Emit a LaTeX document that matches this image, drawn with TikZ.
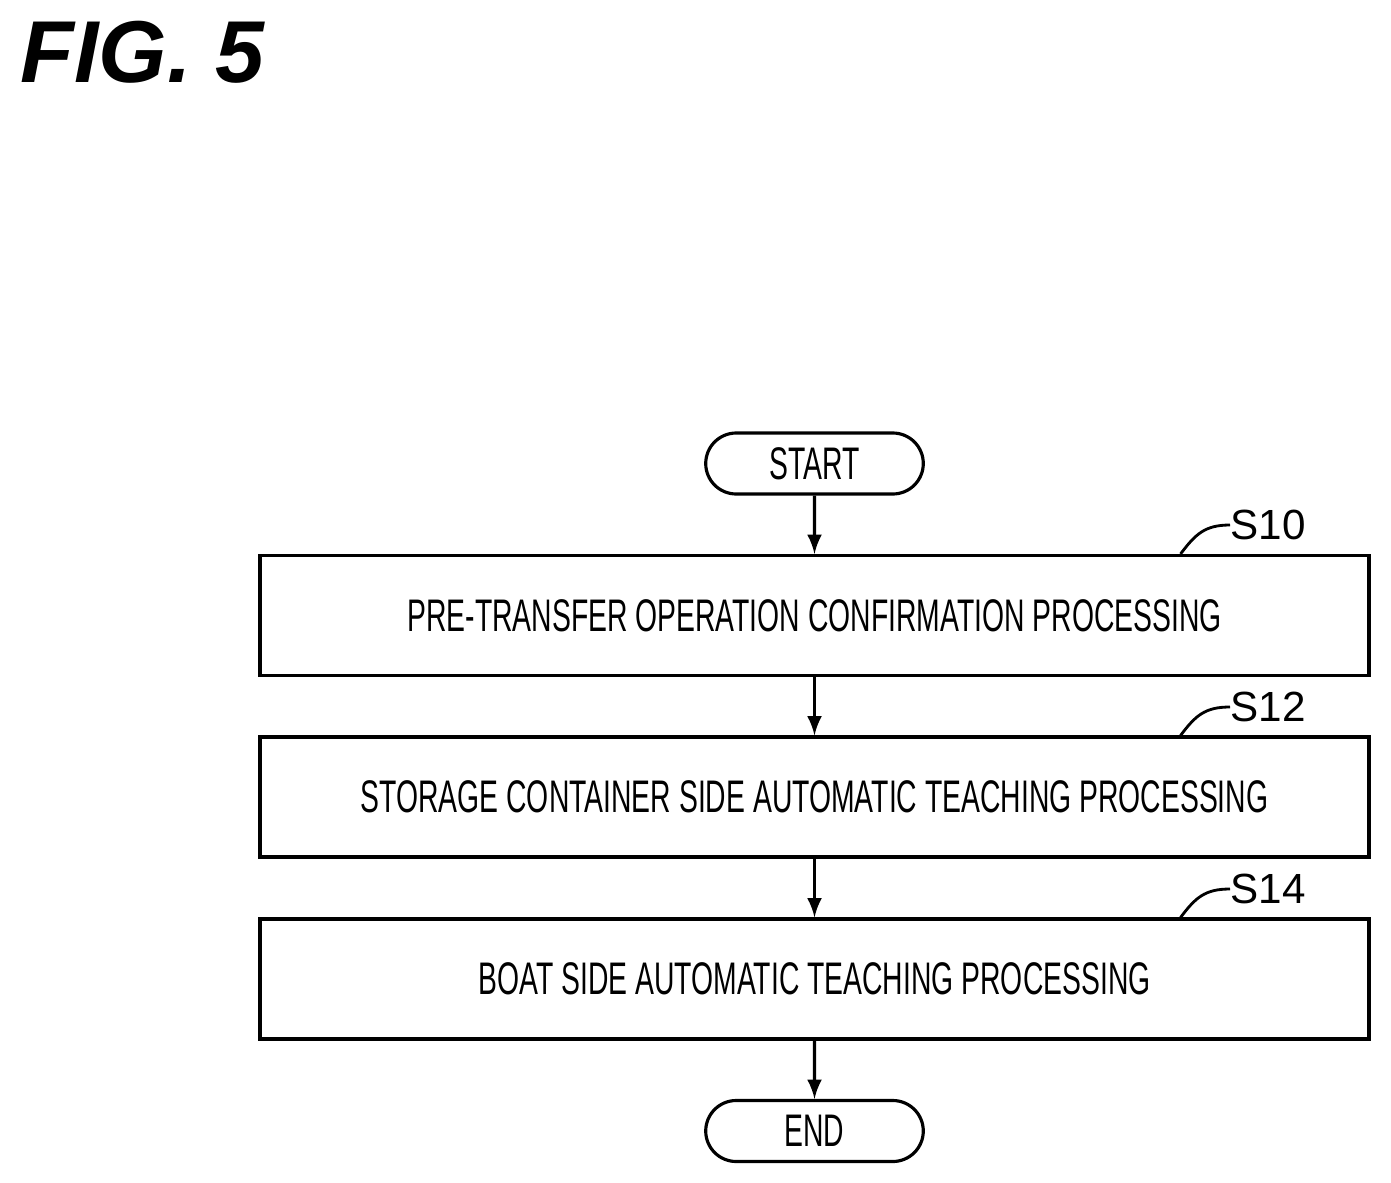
\documentclass[tikz,border=0pt]{standalone}
\usepackage{fontspec}
\setmainfont{Liberation Sans}
\newfontfamily\narrowsf[FakeStretch=0.62]{Liberation Sans}
\usetikzlibrary{positioning,shapes.misc}
\begin{document}
\begin{tikzpicture}[
    every node/.style={align=center, font=\narrowsf\fontsize{13}{15}\selectfont},
    procbox/.style={rectangle, draw, line width=0.9pt, minimum width=11.09cm, minimum height=1.2cm},
    term/.style={rounded rectangle, draw, line width=0.9pt, minimum width=2.41cm, minimum height=0.61cm},
    tag/.style={font=\fontsize{12}{14}\selectfont, inner sep=0pt}]
\useasboundingbox (0,0) rectangle (13.91,11.82);

% Title
\node[font=\bfseries\itshape\fontsize{25}{28}\selectfont, anchor=north west, inner sep=0pt] (title) at (0.2,11.62) {FIG. 5};

% Flow
\node[term] (start) at (8.145,7.185) {START};
\node[procbox] (s10) at (8.145,5.665) {PRE-TRANSFER OPERATION CONFIRMATION PROCESSING};
\node[procbox] (s12) at (8.145,3.85) {STORAGE CONTAINER SIDE AUTOMATIC TEACHING PROCESSING};
\node[procbox] (s14) at (8.145,2.03) {BOAT SIDE AUTOMATIC TEACHING PROCESSING};
\node[term] (end) at (8.145,0.51) {END};

% Step labels
\node[tag, anchor=west] (l10) at (12.3,6.57) {S10};
\node[tag, anchor=west] (l12) at (12.3,4.75) {S12};
\node[tag, anchor=west] (l14) at (12.3,2.93) {S14};
\draw[line width=0.8pt] (s10.north east) ++(-1.9,0) .. controls +(0.15,0.2) and +(-0.25,0) .. (l10.west);
\draw[line width=0.8pt] (s12.north east) ++(-1.9,0) .. controls +(0.15,0.2) and +(-0.25,0) .. (l12.west);
\draw[line width=0.8pt] (s14.north east) ++(-1.9,0) .. controls +(0.15,0.2) and +(-0.25,0) .. (l14.west);

% Connections
\draw[-latex, line width=0.9pt] (start) -- (s10);
\draw[-latex, line width=0.9pt] (s10) -- (s12);
\draw[-latex, line width=0.9pt] (s12) -- (s14);
\draw[-latex, line width=0.9pt] (s14) -- (end);
\end{tikzpicture}
\end{document}
